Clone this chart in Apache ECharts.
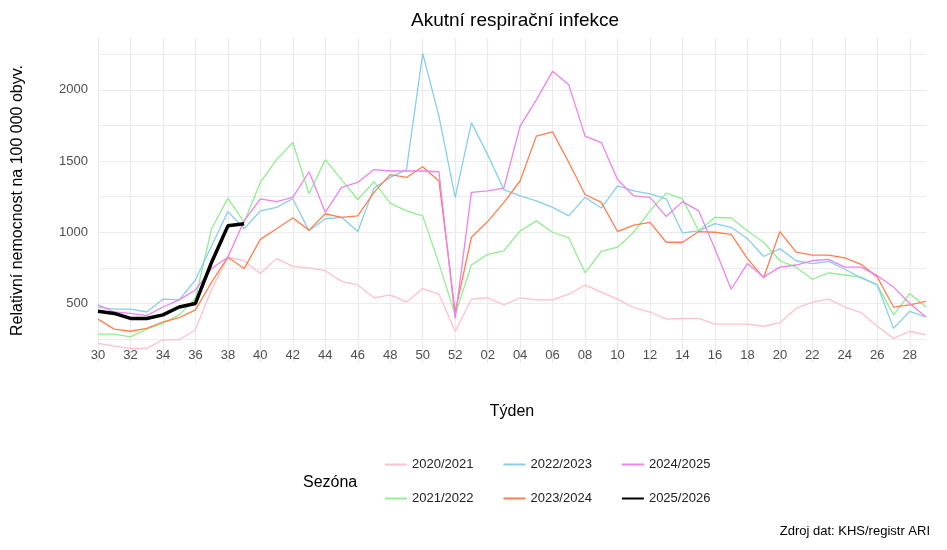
<!DOCTYPE html>
<html>
<head>
<meta charset="utf-8">
<script src="https://cdn.jsdelivr.net/npm/echarts@6/dist/echarts.min.js"></script>
<style>
  body { margin: 0; background: #fff; }
  #chart { width: 947px; height: 550px; }
</style>
</head>
<body>
<div id="chart"></div>
<script>
const weeks = ['30','31','32','33','34','35','36','37','38','39','40','41','42','43','44','45','46','47','48','49','50','51','52',
  '01','02','03','04','05','06','07','08','09','10','11','12','13','14','15','16','17','18','19','20','21','22','23','24','25','26','27','28','29'];

const s2020 = [220,200,185,185,245,245,315,600,825,800,710,815,760,750,730,655,630,540,560,510,605,565,305,
  530,540,490,540,525,525,565,630,580,530,470,440,390,395,395,355,355,355,340,365,465,510,530,475,435,340,255,305,280];
const s2021 = [285,285,265,320,360,420,535,1025,1240,1070,1350,1510,1630,1270,1510,1370,1230,1355,1205,1150,1115,780,420,
  770,845,870,1010,1080,1000,960,715,865,895,1000,1150,1275,1235,1010,1105,1100,1010,930,800,755,670,715,700,685,630,420,570,475];
const s2022 = [475,460,460,440,530,525,665,905,1145,1025,1150,1175,1235,1010,1095,1105,1005,1310,1385,1440,2255,1815,1245,
  1770,1545,1300,1255,1220,1175,1115,1245,1170,1325,1290,1270,1235,995,1010,1060,1035,955,830,885,800,780,795,740,680,630,325,445,405];
const s2023 = [390,320,305,325,370,400,455,650,825,745,950,1025,1100,1015,1130,1105,1115,1280,1405,1385,1460,1360,440,
  965,1075,1210,1360,1675,1705,1490,1265,1210,1005,1050,1070,930,930,1005,1000,985,815,680,1005,860,840,840,820,775,685,475,490,515];
const s2024 = [490,440,430,415,475,525,595,745,825,1080,1235,1215,1245,1425,1140,1315,1350,1440,1430,1430,1430,1425,395,
  1280,1290,1310,1745,1930,2130,2035,1675,1630,1370,1255,1245,1110,1215,1150,885,600,780,685,755,770,800,810,755,755,695,615,500,405];
const s2025 = [445,430,395,395,420,475,500,790,1045,1060];

const yLabels = [500, 1000, 1500, 2000];
const yGrid = [250, 500, 750, 1000, 1250, 1500, 1750, 2000, 2250];

const chart = echarts.init(document.getElementById('chart'));
const thin = (name, data, color) => ({
  name, type: 'line', data, symbol: 'none', lineStyle: { width: 1.3, color }, itemStyle: { color }
});
const font = 'Liberation Sans, Arial, sans-serif';
chart.setOption({
  animation: false,
  textStyle: { fontFamily: font },
  title: [
    { text: 'Akutní respirační infekce', left: 510, top: 6, textAlign: 'center',
      textStyle: { fontSize: 19, fontWeight: 'normal', color: '#000' } },
    { text: 'Zdroj dat: KHS/registr ARI', right: 12, top: 520,
      textStyle: { fontSize: 13, fontWeight: 'normal', color: '#000' } },
    { text: 'Sezóna', left: 298, top: 470, textStyle: { fontSize: 16, fontWeight: 'normal', color: '#000' } }
  ],
  grid: { left: 98, right: 21, top: 38, bottom: 187 },
  legend: [
    { data: ['2020/2021', '2022/2023', '2024/2025'], left: 380, top: 453, itemWidth: 22, itemGap: 30,
      icon: 'rect', itemHeight: 2, textStyle: { fontSize: 13, color: '#222' } },
    { data: ['2021/2022', '2023/2024', '2025/2026'], left: 380, top: 487, itemWidth: 22, itemGap: 30,
      icon: 'rect', itemHeight: 2, textStyle: { fontSize: 13, color: '#222' } }
  ],
  xAxis: {
    type: 'category', data: weeks, boundaryGap: false,
    name: 'Týden', nameLocation: 'middle', nameGap: 41,
    nameTextStyle: { fontSize: 16, color: '#000' },
    axisLine: { show: false }, axisTick: { show: false },
    axisLabel: { interval: 1, fontSize: 13, color: '#4d4d4d', margin: -14 },
    splitLine: { show: true, interval: 1, lineStyle: { color: '#ebebeb', width: 1.2 } }
  },
  yAxis: {
    type: 'value', min: 82, max: 2364,
    name: 'Relativní nemocnost na 100 000 obyv.', nameLocation: 'middle', nameGap: 72,
    nameTextStyle: { fontSize: 16, color: '#000' },
    axisLine: { show: false },
    axisTick: { show: false, customValues: yGrid },
    axisLabel: { customValues: yLabels, fontSize: 13, color: '#4d4d4d', margin: 10,
      formatter: v => String(v) },
    splitLine: { show: true, lineStyle: { color: '#ebebeb', width: 1.2 } }
  },
  series: [
    thin('2020/2021', s2020, '#ffc0cb'),
    thin('2021/2022', s2021, '#90ee90'),
    thin('2022/2023', s2022, '#87ceeb'),
    thin('2023/2024', s2023, '#ff7f50'),
    thin('2024/2025', s2024, '#ee82ee'),
    { name: '2025/2026', type: 'line', data: s2025, symbol: 'none', z: 5,
      lineStyle: { width: 3.5, color: '#000' }, itemStyle: { color: '#000' } }
  ]
});
</script>
</body>
</html>
